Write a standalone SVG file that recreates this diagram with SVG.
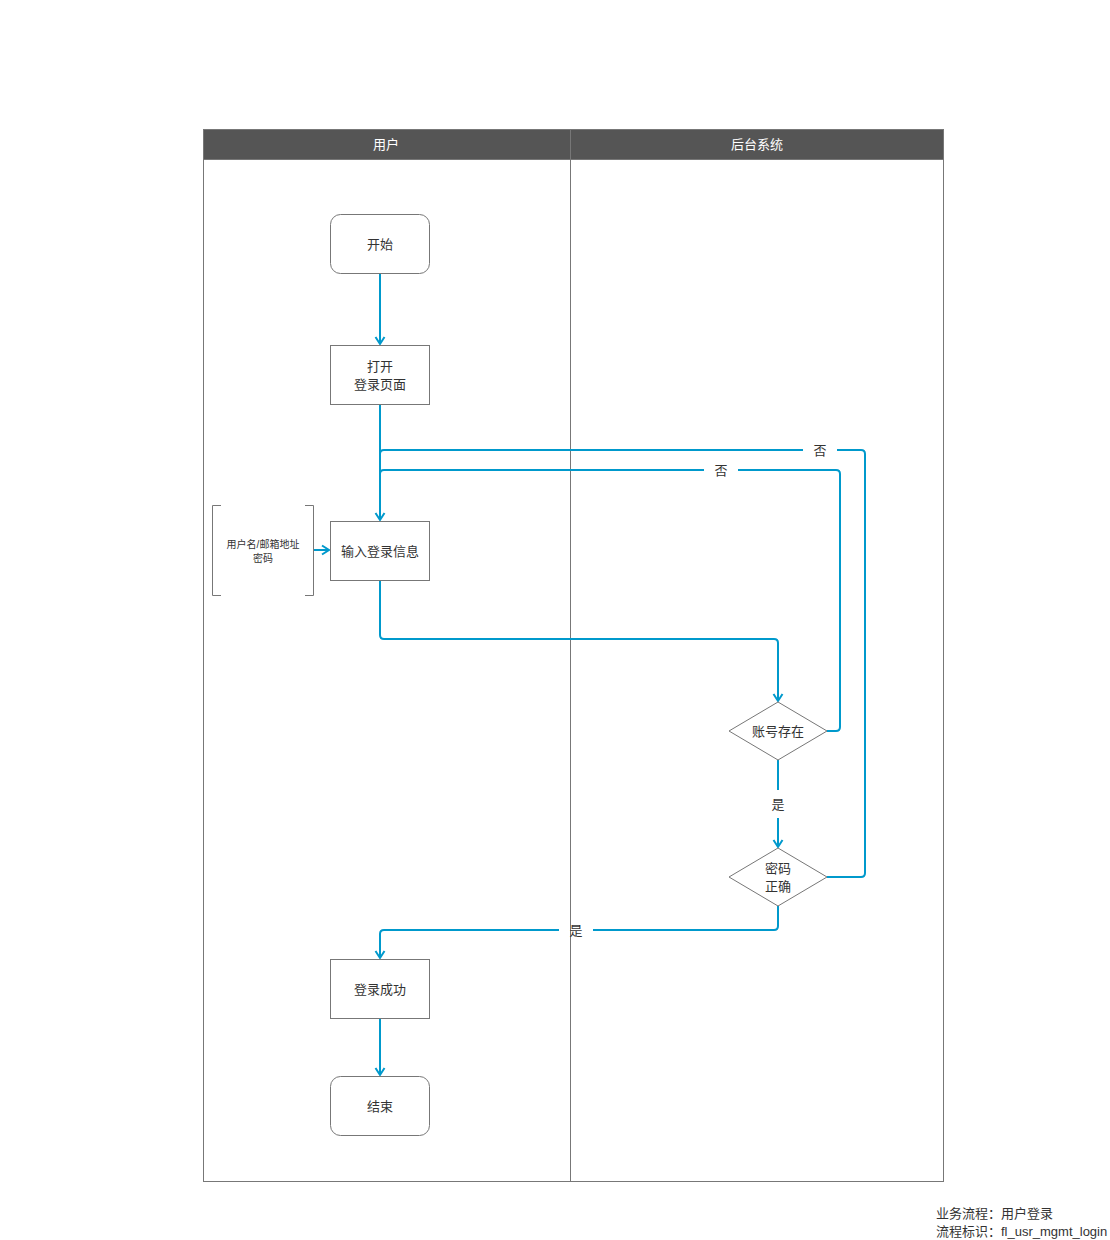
<svg xmlns="http://www.w3.org/2000/svg" width="1110" height="1240" viewBox="0 0 1110 1240">
  <style>
    text { font-family: "Liberation Sans", "Noto Sans CJK SC", sans-serif; fill: #333; }
    .node { fill: #fff; stroke: #777; stroke-width: 1; }
    .lbl { font-size: 13px; text-anchor: middle; }
    .small { font-size: 10px; text-anchor: middle; }
    .head { font-size: 13px; text-anchor: middle; fill: #fff; }
    .edge { fill: none; stroke: #0099cc; stroke-width: 2; marker-end: url(#arrow); }
    .plain { fill: none; stroke: #0099cc; stroke-width: 2; }
  </style>
  <defs>
    <marker id="arrow" viewBox="0 0 12 12" refX="10" refY="6" markerWidth="12" markerHeight="12" markerUnits="userSpaceOnUse" orient="auto">
      <polyline points="3,1.5 10,6 3,10.5" fill="none" stroke="#0099cc" stroke-width="2"/>
    </marker>
  </defs>

  <rect width="1110" height="1240" fill="#fff"/>

  <!-- swimlane pool -->
  <g id="pool">
    <rect x="203.5" y="129.5" width="740" height="1052" fill="#fff" stroke="#777"/>
    <rect x="203.5" y="129.5" width="740" height="30" fill="#555" stroke="#777"/>
    <line x1="570.5" y1="129.5" x2="570.5" y2="1181.5" stroke="#777"/>
    <text class="head" x="386" y="149">用户</text>
    <text class="head" x="757" y="149">后台系统</text>
  </g>

  <!-- connectors (label gaps are left open in the line) -->
  <g id="connectors">
    <path class="edge" d="M380,273 V344"/>
    <path class="edge" d="M380,404 V520"/>
    <path class="edge" d="M380,580 V635 Q380,639 384,639 H774 Q778,639 778,643 V701"/>
    <!-- account exists: no -->
    <path class="plain" d="M827,731 H836 Q840,731 840,727 V474 Q840,470 836,470 H738"/>
    <path class="plain" d="M704,470 H384 Q380,470 380,474"/>
    <text class="lbl" x="721" y="475">否</text>
    <!-- password correct: no -->
    <path class="plain" d="M827,877 H861 Q865,877 865,873 V454 Q865,450 861,450 H837"/>
    <path class="plain" d="M803,450 H384 Q380,450 380,454"/>
    <text class="lbl" x="820" y="455">否</text>
    <!-- account exists: yes -->
    <path class="plain" d="M778,760 V790"/>
    <path class="edge" d="M778,818 V847"/>
    <text class="lbl" x="778" y="809">是</text>
    <!-- password correct: yes -->
    <path class="plain" d="M778,906 V926 Q778,930 774,930 H593"/>
    <path class="edge" d="M559,930 H384 Q380,930 380,934 V958"/>
    <text class="lbl" x="576" y="935">是</text>
    <path class="edge" d="M314,550 H329"/>
    <path class="edge" d="M380,1018 V1075"/>
  </g>

  <g id="start">
    <rect class="node" x="330.5" y="214.5" width="99" height="59" rx="10"/>
    <text class="lbl" x="380" y="249">开始</text>
  </g>

  <g id="open-page">
    <rect class="node" x="330.5" y="345.5" width="99" height="59"/>
    <text class="lbl" x="380" y="371">打开</text>
    <text class="lbl" x="380" y="389">登录页面</text>
  </g>

  <g id="login-data">
    <polyline points="221,505.5 212.5,505.5 212.5,595.5 221,595.5" fill="none" stroke="#777"/>
    <polyline points="305,505.5 313.5,505.5 313.5,595.5 305,595.5" fill="none" stroke="#777"/>
    <text class="small" x="263" y="548">用户名/邮箱地址</text>
    <text class="small" x="263" y="562">密码</text>
  </g>

  <g id="input-info">
    <rect class="node" x="330.5" y="521.5" width="99" height="59"/>
    <text class="lbl" x="380" y="556">输入登录信息</text>
  </g>

  <g id="account-exists">
    <polygon class="node" points="778,702 827,731 778,760 729,731"/>
    <text class="lbl" x="778" y="736">账号存在</text>
  </g>

  <g id="password-correct">
    <polygon class="node" points="778,848 827,877 778,906 729,877"/>
    <text class="lbl" x="778" y="873">密码</text>
    <text class="lbl" x="778" y="891">正确</text>
  </g>

  <g id="login-success">
    <rect class="node" x="330.5" y="959.5" width="99" height="59"/>
    <text class="lbl" x="380" y="994">登录成功</text>
  </g>

  <g id="end">
    <rect class="node" x="330.5" y="1076.5" width="99" height="59" rx="10"/>
    <text class="lbl" x="380" y="1111">结束</text>
  </g>

  <g id="footer">
    <text x="936" y="1218" font-size="13">业务流程：用户登录</text>
    <text x="936" y="1236" font-size="13">流程标识：fl_usr_mgmt_login</text>
  </g>
</svg>
